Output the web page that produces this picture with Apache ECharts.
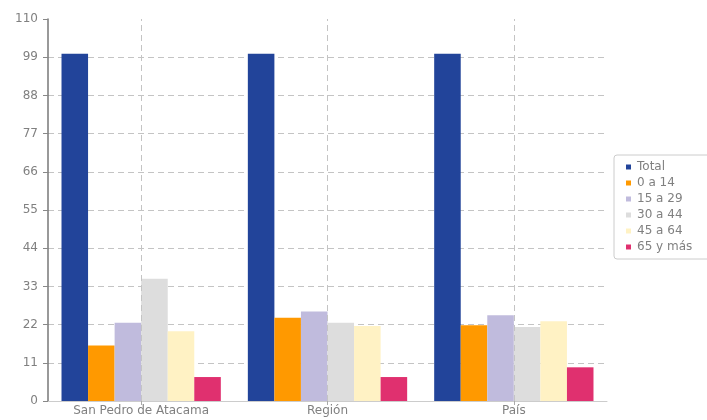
<!DOCTYPE html>
<html>
<head>
<meta charset="utf-8">
<script src="https://cdn.jsdelivr.net/npm/echarts@6/dist/echarts.min.js"></script>
<style>
  html, body { margin: 0; padding: 0; background: #fff; }
  #chart { width: 707px; height: 420px; }
</style>
</head>
<body>
<div id="chart"></div>
<script>
// categories and age groups
var categories = ['San Pedro de Atacama', 'Región', 'País'];
var groups = ['Total', '0 a 14', '15 a 29', '30 a 44', '45 a 64', '65 y más'];
var colors = ['#22449a', '#ff9900', '#c0bbdd', '#dddddd', '#fff2c4', '#e0306f'];

// percentages per group, in category order
var total   = [100, 100, 100];
var age0_14  = [16.0, 24.0, 21.8];
var age15_29 = [22.5, 25.8, 24.7];
var age30_44 = [35.2, 22.5, 21.3];
var age45_64 = [20.1, 21.6, 23.0];
var age65    = [6.9, 6.9, 9.7];

var values = [total, age0_14, age15_29, age30_44, age45_64, age65];

var font = 'DejaVu Sans';

var series = groups.map(function (g, i) {
  return {
    name: g,
    type: 'bar',
    data: values[i],
    barGap: 0,
    barCategoryGap: '14.5%',
    itemStyle: { color: colors[i] }
  };
});

// dashed vertical lines through each category centre
series.push({
  type: 'line',
  data: [],
  z: 1,
  silent: true,
  markLine: {
    silent: true,
    symbol: 'none',
    label: { show: false },
    lineStyle: { type: [6, 4], color: '#c4c4c4', width: 1 },
    data: categories.map(function (c) { return { xAxis: c }; })
  }
});

var myChart = echarts.init(document.getElementById('chart'));
var option = {
  animation: false,
  textStyle: { fontFamily: font },
  grid: { left: 48, right: 100, top: 19, bottom: 19, containLabel: false },
  legend: {
    data: groups,
    orient: 'vertical',
    left: 614,
    top: 155,
    padding: [6, 30, 6, 12],
    borderColor: '#cccccc',
    borderWidth: 1,
    borderRadius: 3,
    icon: 'rect',
    itemWidth: 5,
    itemHeight: 5,
    itemGap: 4,
    textStyle: { fontFamily: font, fontSize: 12, lineHeight: 12, color: '#808080', padding: [0, 0, 0, 1] }
  },
  xAxis: {
    type: 'category',
    data: categories,
    axisLine: { lineStyle: { color: '#cccccc' } },
    axisTick: { show: true, alignWithLabel: true, length: 4, lineStyle: { color: '#aaaaaa' } },
    axisLabel: { color: '#808080', fontSize: 12, fontFamily: font, margin: 4 },
    splitLine: { show: false }
  },
  yAxis: {
    type: 'value',
    min: 0,
    max: 110,
    interval: 11,
    axisLine: { show: true, lineStyle: { color: '#777777', width: 1.5 } },
    axisTick: { show: true, length: 5, lineStyle: { color: '#888888' } },
    axisLabel: { color: '#808080', fontSize: 12, fontFamily: font, margin: 10 },
    splitLine: { show: true, showMaxLine: false, lineStyle: { type: [6, 4], color: '#c4c4c4' } }
  },
  series: series
};
myChart.setOption(option);
</script>
</body>
</html>
